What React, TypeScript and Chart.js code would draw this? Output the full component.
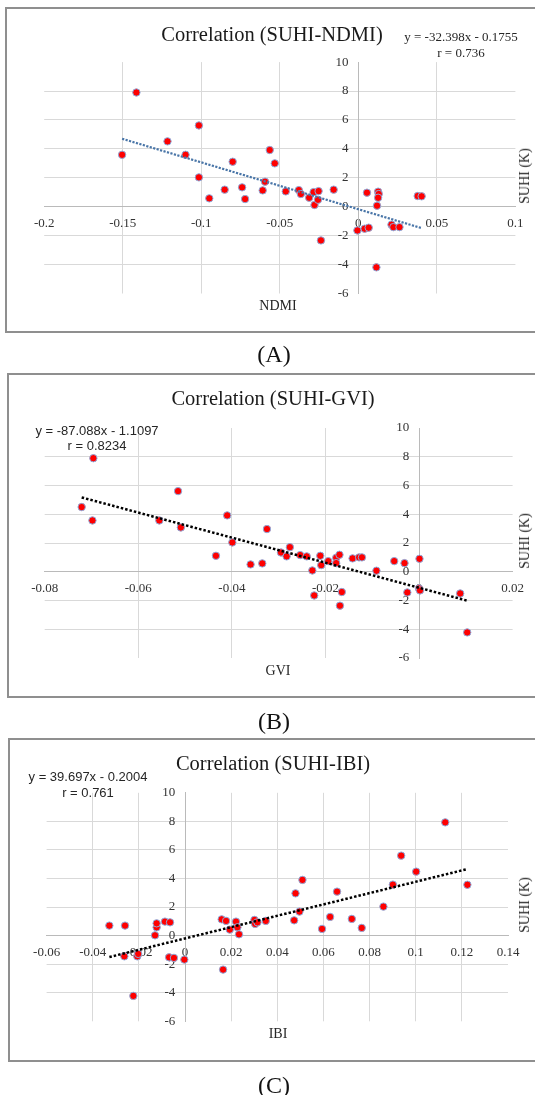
import React, { useEffect, useRef } from 'react';
import { Chart, registerables } from 'chart.js';

Chart.register(...registerables);

// ---------- DATA ----------
// Panel A: SUHI vs NDMI
const ndmi = [-0.1504, -0.1413, -0.1215, -0.110, -0.1015, -0.1015, -0.0949, -0.0851, -0.080, -0.0740, -0.0721, -0.0609, -0.0594, -0.0564, -0.0532, -0.0462, -0.0379, -0.0366, -0.0313, -0.0285, -0.0279, -0.0253, -0.0257, -0.0238, -0.0157, -0.0006, 0.0040, 0.0066, 0.0055, 0.0126, 0.0130, 0.0126, 0.0119, 0.0115, 0.0211, 0.0223, 0.0262, 0.0378, 0.0403];
const suhiA = [3.59, 7.90, 4.52, 3.59, 5.62, 2.03, 0.58, 1.18, 3.11, 1.34, 0.53, 1.13, 1.73, 3.92, 3.00, 1.06, 1.15, 0.88, 0.62, 1.01, 0.12, 1.08, 0.48, -2.33, 1.18, -1.64, -1.52, -1.45, 0.97, 1.04, 0.88, 0.62, 0.07, -4.19, -1.24, -1.41, -1.41, 0.74, 0.72];
const trendAx = [-0.1504, 0.0403];
const trendAy = [4.70, -1.48];

// Panel B: SUHI vs GVI
const gvi = [-0.0721, -0.0696, -0.0698, -0.0555, -0.0515, -0.0509, -0.0434, -0.0410, -0.0399, -0.0360, -0.0335, -0.0325, -0.0295, -0.0283, -0.0276, -0.0254, -0.0240, -0.0228, -0.0224, -0.0211, -0.0209, -0.0194, -0.0177, -0.0177, -0.0170, -0.0165, -0.0169, -0.0142, -0.0128, -0.0122, -0.0091, -0.0053, -0.0031, -0.0025, 0.0001, 0.0000, 0.0002, 0.0088, 0.0103];
const suhiB = [4.50, 7.90, 3.57, 3.57, 5.61, 3.08, 1.11, 3.92, 2.04, 0.51, 0.58, 2.97, 1.34, 1.07, 1.71, 1.16, 1.07, 0.09, -1.65, 1.11, 0.46, 0.74, 0.97, 0.60, 1.18, -1.41, -2.36, 0.93, 1.00, 1.00, 0.07, 0.74, 0.60, -1.44, 0.90, -1.16, -1.30, -1.51, -4.22];
const trendBx = [-0.0721, 0.0103];
const trendBy = [5.17, -2.01];

// Panel C: SUHI vs IBI
const ibi = [-0.0328, -0.0260, -0.0263, -0.0224, -0.0207, -0.0203, -0.0130, -0.0123, -0.0123, -0.0087, -0.0065, -0.0069, -0.0048, -0.0003, 0.0159, 0.0178, 0.0165, 0.0194, 0.0221, 0.0227, 0.0234, 0.0301, 0.0304, 0.0314, 0.0350, 0.0473, 0.0479, 0.0496, 0.0509, 0.0594, 0.0629, 0.0659, 0.0723, 0.0766, 0.0860, 0.0901, 0.0937, 0.1002, 0.1128, 0.1224];
const suhiC = [0.70, 0.70, -1.45, -4.22, -1.45, -1.28, 0.02, 0.58, 0.86, 0.98, 0.93, -1.52, -1.56, -1.68, 1.14, 1.03, -2.38, 0.42, 0.98, 0.58, 0.09, 1.10, 0.82, 0.93, 1.03, 1.07, 2.96, 1.68, 3.90, 0.47, 1.31, 3.08, 1.17, 0.54, 2.03, 3.57, 5.60, 4.48, 7.93, 3.56];
const trendCx = [-0.0328, 0.1224];
const trendCy = [-1.50, 4.66];

// Tick labels
const ndmiTicks = ['-0.2', '-0.15', '-0.1', '-0.05', '0', '0.05', '0.1'];
const gviTicks = ['-0.08', '-0.06', '-0.04', '-0.02', '0', '0.02'];
const ibiTicks = ['-0.06', '-0.04', '-0.02', '0', '0.02', '0.04', '0.06', '0.08', '0.1', '0.12', '0.14'];
const suhiTicks = ['-6', '-4', '-2', '0', '2', '4', '6', '8', '10'];

// ---------- STYLE / LAYOUT ----------
const W = 535;
const SERIF = "'Liberation Serif', 'Times New Roman', serif";
const SANS = "'Liberation Sans', Arial, sans-serif";
const GRID = '#d9d9d9';
const AXIS = '#bababa';
const TICK_COLOR = '#333333';

type PanelDef = {
  xs: number[]; ys: number[]; xTicks: string[];
  tx: number[]; ty: number[];
  trendColor: string; trendWidth: number; trendDash: number[];
  frame: { top: number; left: number; height: number };
  plot: { left: number; right: number; top: number; bottom: number };
  title: { text: string; x: number; y: number };
  eq: { lines: string[]; x: number; ys: number[]; font: string };
  xTitle: { text: string; x: number; y: number };
  yTitleY: number;
  caption: { text: string; y: number };
};

const panels: PanelDef[] = [
  {
    xs: ndmi, ys: suhiA, xTicks: ndmiTicks, tx: trendAx, ty: trendAy,
    trendColor: '#4a76a8', trendWidth: 2.2, trendDash: [2.2, 1.4],
    frame: { top: 7, left: 5, height: 326 },
    plot: { left: 44.2, right: 515.4, top: 62.1, bottom: 293.5 },
    title: { text: 'Correlation (SUHI-NDMI)', x: 272, y: 33.5 },
    eq: { lines: ['y = -32.398x - 0.1755', 'r = 0.736'], x: 461, ys: [36, 52], font: SERIF },
    xTitle: { text: 'NDMI', x: 278, y: 306 },
    yTitleY: 176,
    caption: { text: '(A)', y: 354 },
  },
  {
    xs: gvi, ys: suhiB, xTicks: gviTicks, tx: trendBx, ty: trendBy,
    trendColor: '#000000', trendWidth: 2.5, trendDash: [2.5, 2],
    frame: { top: 373, left: 7, height: 325 },
    plot: { left: 44.7, right: 512.6, top: 428, bottom: 658 },
    title: { text: 'Correlation (SUHI-GVI)', x: 273, y: 398 },
    eq: { lines: ['y = -87.088x - 1.1097', 'r = 0.8234'], x: 97, ys: [429.5, 445], font: SANS },
    xTitle: { text: 'GVI', x: 278, y: 671 },
    yTitleY: 541,
    caption: { text: '(B)', y: 721 },
  },
  {
    xs: ibi, ys: suhiC, xTicks: ibiTicks, tx: trendCx, ty: trendCy,
    trendColor: '#000000', trendWidth: 2.5, trendDash: [2.5, 2],
    frame: { top: 738, left: 8, height: 324 },
    plot: { left: 46.6, right: 508, top: 792.8, bottom: 1021.3 },
    title: { text: 'Correlation (SUHI-IBI)', x: 273, y: 763 },
    eq: { lines: ['y = 39.697x - 0.2004', 'r = 0.761'], x: 88, ys: [776, 791.5], font: SANS },
    xTitle: { text: 'IBI', x: 278, y: 1034 },
    yTitleY: 905,
    caption: { text: '(C)', y: 1085 },
  },
];

function gridColor(labels: string[]) {
  return (ctx: any) => {
    const i = ctx.index;
    if (ctx.tick && ctx.tick.value === 0) return AXIS;
    if (i === 0 || i === labels.length - 1) return 'rgba(0,0,0,0)';
    return GRID;
  };
}

function ScatterPanel({ p }: { p: PanelDef }) {
  const ref = useRef<HTMLCanvasElement | null>(null);
  useEffect(() => {
    if (!ref.current) return;
    const points = p.xs.map((x, i) => ({ x, y: p.ys[i] }));
    const trend = p.tx.map((x, i) => ({ x, y: p.ty[i] }));
    const xMin = Number(p.xTicks[0]);
    const xMax = Number(p.xTicks[p.xTicks.length - 1]);
    const tickFont = { family: SERIF, size: 13 };
    const chart = new Chart(ref.current, {
      type: 'scatter',
      data: {
        datasets: [
          {
            type: 'line',
            data: trend,
            borderColor: p.trendColor,
            borderWidth: p.trendWidth,
            borderDash: p.trendDash,
            pointRadius: 0,
            fill: false,
            tension: 0,
            order: 0,
          } as any,
          {
            type: 'scatter',
            data: points,
            backgroundColor: '#ff0000',
            borderColor: '#8eaadb',
            borderWidth: 1,
            pointRadius: 3.7,
            order: 1,
          } as any,
        ],
      },
      options: {
        animation: false,
        responsive: false,
        events: [],
        layout: {
          padding: {
            left: p.plot.left,
            right: W - p.plot.right,
            top: p.plot.top - p.frame.top,
            bottom: p.frame.top + p.frame.height - p.plot.bottom,
          },
        },
        plugins: {
          legend: { display: false },
          tooltip: { enabled: false },
          title: { display: false },
        },
        scales: {
          x: {
            type: 'linear',
            position: { y: 0 } as any,
            min: xMin,
            max: xMax,
            afterBuildTicks: (scale: any) => {
              scale.ticks = p.xTicks.map((l) => ({ value: Number(l) }));
            },
            ticks: {
              callback: (_v: any, i: number) => p.xTicks[i],
              font: tickFont,
              color: TICK_COLOR,
              padding: 9,
              autoSkip: false,
              maxRotation: 0,
              minRotation: 0,
            },
            grid: { color: gridColor(p.xTicks), drawTicks: false, lineWidth: 1 },
            border: { display: true, color: AXIS, width: 1 },
          },
          y: {
            type: 'linear',
            position: { x: 0 } as any,
            min: -6,
            max: 10,
            afterBuildTicks: (scale: any) => {
              scale.ticks = suhiTicks.map((l) => ({ value: Number(l) }));
            },
            ticks: {
              callback: (_v: any, i: number) => suhiTicks[i] + '\u2002 ',
              font: tickFont,
              color: TICK_COLOR,
              padding: 0,
              autoSkip: false,
            },
            grid: { color: gridColor(suhiTicks), drawTicks: false, lineWidth: 1 },
            border: { display: true, color: AXIS, width: 1 },
          },
        },
      } as any,
    });
    return () => chart.destroy();
  }, [p]);

  const center: React.CSSProperties = {
    position: 'absolute',
    transform: 'translate(-50%, -50%)',
    whiteSpace: 'nowrap',
    lineHeight: 1,
  };

  return (
    <>
      <div
        style={{
          position: 'absolute',
          left: p.frame.left,
          top: p.frame.top,
          width: 560,
          height: p.frame.height,
          boxSizing: 'border-box',
          border: '2px solid #8f8f8f',
          background: '#ffffff',
        }}
      />
      <canvas
        ref={ref}
        width={W}
        height={p.frame.height}
        style={{ position: 'absolute', left: 0, top: p.frame.top, width: W, height: p.frame.height }}
      />
      <div style={{ ...center, left: p.title.x, top: p.title.y, fontFamily: SERIF, fontSize: 20.5, color: '#1a1a1a' }}>
        {p.title.text}
      </div>
      {p.eq.lines.map((l, i) => (
        <div key={i} style={{ ...center, left: p.eq.x, top: p.eq.ys[i], fontFamily: p.eq.font, fontSize: 13, color: '#262626' }}>
          {l}
        </div>
      ))}
      <div style={{ ...center, left: p.xTitle.x, top: p.xTitle.y, fontFamily: SERIF, fontSize: 14, color: '#262626' }}>
        {p.xTitle.text}
      </div>
      <div
        style={{
          ...center,
          left: 525,
          top: p.yTitleY,
          transform: 'translate(-50%, -50%) rotate(-90deg)',
          fontFamily: SERIF,
          fontSize: 14,
          color: '#262626',
        }}
      >
        SUHI (K)
      </div>
      <div style={{ ...center, left: 274, top: p.caption.y, fontFamily: SERIF, fontSize: 24, color: '#111' }}>
        {p.caption.text}
      </div>
    </>
  );
}

export default function App() {
  return (
    <div
      style={{
        position: 'absolute',
        left: 0,
        top: 0,
        width: W,
        height: 1095,
        overflow: 'hidden',
        background: '#ffffff',
      }}
    >
      {panels.map((p, i) => (
        <ScatterPanel key={i} p={p} />
      ))}
    </div>
  );
}
